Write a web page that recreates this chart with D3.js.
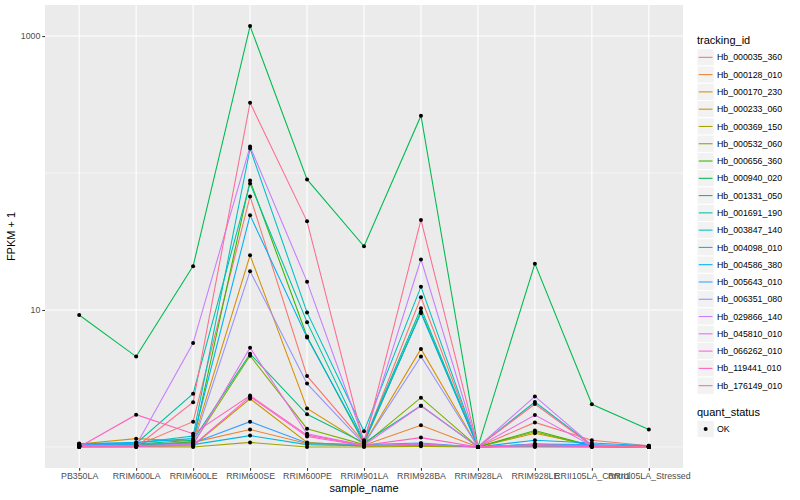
<!DOCTYPE html>
<html>
<head>
<meta charset="utf-8">
<script src="https://cdn.jsdelivr.net/npm/d3@7"></script>
<style>
  body { margin: 0; background: #fff; }
  svg text { font-family: "Liberation Sans", Arial, Helvetica, sans-serif; }
</style>
</head>
<body>
<div id="chart"></div>
<script>
const samples = ["PB350LA", "RRIM600LA", "RRIM600LE", "RRIM600SE", "RRIM600PE", "RRIM901LA",
  "RRIM928BA", "RRIM928LA", "RRIM928LE", "RRII105LA_Control", "RRII105LA_Stressed"];

const trackingIds = ["Hb_000035_360", "Hb_000128_010", "Hb_000170_230", "Hb_000233_060",
  "Hb_000369_150", "Hb_000532_060", "Hb_000656_360", "Hb_000940_020", "Hb_001331_050",
  "Hb_001691_190", "Hb_003847_140", "Hb_004098_010", "Hb_004586_380", "Hb_005643_010",
  "Hb_006351_080", "Hb_029866_140", "Hb_045810_010", "Hb_066262_010", "Hb_119441_010",
  "Hb_176149_010"];

// FPKM + 1, one array per tracking_id, in sample order
const fpkm = [
  [1.03, 1.02, 1.53, 67.5, 3.30, 1.08, 12.4, 1.0, 1.51, 1.12, 1.02],
  [1.02, 1.04, 1.08, 1.34, 1.06, 1.03, 1.44, 1.0, 1.03, 1.02, 1.0],
  [1.05, 1.15, 1.10, 25.1, 1.91, 1.05, 5.2, 1.0, 1.26, 1.03, 1.01],
  [1.01, 1.01, 1.02, 2.25, 1.08, 1.01, 1.03, 1.0, 1.01, 1.0, 1.0],
  [1.0, 1.0, 1.0, 1.08, 1.0, 1.0, 1.01, 1.0, 1.0, 1.0, 1.0],
  [1.02, 1.03, 1.06, 4.63, 1.36, 1.04, 2.29, 1.0, 1.29, 1.01, 1.0],
  [1.01, 1.02, 1.09, 88, 6.4, 1.06, 9.7, 1.0, 1.32, 1.02, 1.0],
  [9.2, 4.57, 20.9, 1183, 89.8, 29.2, 262, 1.0, 21.8, 2.05, 1.34],
  [1.02, 1.05, 1.12, 4.79, 1.73, 1.07, 2.0, 1.0, 1.04, 1.01, 1.0],
  [1.04, 1.06, 2.45, 84, 8.15, 1.10, 10.3, 1.0, 2.13, 1.03, 1.01],
  [1.06, 1.07, 1.20, 151, 9.6, 1.30, 14.8, 1.0, 1.05, 1.02, 1.0],
  [1.03, 1.03, 1.04, 1.21, 1.04, 1.02, 1.05, 1.0, 1.02, 1.01, 1.0],
  [1.05, 1.08, 1.15, 49.1, 6.3, 1.09, 9.5, 1.0, 1.12, 1.07, 1.02],
  [1.04, 1.05, 1.07, 1.53, 1.07, 1.04, 1.07, 1.0, 1.05, 1.04, 1.01],
  [1.01, 1.02, 1.05, 19.2, 2.90, 1.05, 4.57, 1.0, 1.03, 1.01, 1.0],
  [1.02, 1.03, 5.73, 156, 16.1, 1.12, 23.4, 1.0, 2.34, 1.03, 1.0],
  [1.01, 1.02, 1.04, 5.3, 1.25, 1.03, 2.0, 1.0, 1.71, 1.02, 1.0],
  [1.0, 1.01, 1.03, 2.33, 1.19, 1.02, 1.05, 1.0, 1.02, 1.01, 1.0],
  [1.0, 1.72, 1.25, 2.37, 1.22, 1.03, 1.17, 1.0, 1.04, 1.01, 1.0],
  [1.0, 1.0, 2.12, 326, 44.4, 1.05, 45.4, 1.0, 2.06, 1.02, 1.0]
];

const yBreaks = [10, 1000];
const yMinor = [1, 100];
const quantStatus = ["OK"];

const width = 800, height = 500;
const panel = { left: 45, right: 683, top: 5, bottom: 468 };

// ggplot default hue palette for 20 levels
const palette = ["#F8766D", "#EA8331", "#D89000", "#C09B00", "#A3A500", "#7CAE00", "#39B600",
  "#00BB4E", "#00BF7D", "#00C1A3", "#00BFC4", "#00BAE0", "#00B0F6", "#35A2FF", "#9590FF",
  "#C77CFF", "#E76BF3", "#FA62DB", "#FF62BC", "#FF6C91"];
const color = d3.scaleOrdinal().domain(trackingIds).range(palette);

const svg = d3.select("#chart").append("svg")
  .attr("width", width)
  .attr("height", height);

const x = d3.scalePoint()
  .domain(samples)
  .range([panel.left, panel.right])
  .padding(0.6);

// log10 scale with 5% expansion like ggplot
const allVals = fpkm.flat();
const lo = Math.log10(d3.min(allVals)), hi = Math.log10(d3.max(allVals));
const pad = (hi - lo) * 0.05;
const y = d3.scaleLog()
  .domain([Math.pow(10, lo - pad), Math.pow(10, hi + pad)])
  .range([panel.bottom, panel.top]);

// panel background
svg.append("rect")
  .attr("x", panel.left).attr("y", panel.top)
  .attr("width", panel.right - panel.left)
  .attr("height", panel.bottom - panel.top)
  .attr("fill", "#EBEBEB");

const grid = svg.append("g");
grid.selectAll(".minor-y").data(yMinor).enter().append("line")
  .attr("x1", panel.left).attr("x2", panel.right)
  .attr("y1", d => y(d)).attr("y2", d => y(d))
  .attr("stroke", "#fff").attr("stroke-width", 0.55);
grid.selectAll(".major-y").data(yBreaks).enter().append("line")
  .attr("x1", panel.left).attr("x2", panel.right)
  .attr("y1", d => y(d)).attr("y2", d => y(d))
  .attr("stroke", "#fff").attr("stroke-width", 1.1);
grid.selectAll(".major-x").data(samples).enter().append("line")
  .attr("y1", panel.top).attr("y2", panel.bottom)
  .attr("x1", d => x(d)).attr("x2", d => x(d))
  .attr("stroke", "#fff").attr("stroke-width", 1.1);

// lines
const line = d3.line()
  .x((d, i) => x(samples[i]))
  .y(d => y(d));

svg.append("g").selectAll("path")
  .data(fpkm)
  .enter().append("path")
  .attr("d", d => line(d))
  .attr("fill", "none")
  .attr("stroke", (d, i) => color(trackingIds[i]))
  .attr("stroke-width", 1.07);

// points
const pts = fpkm.flatMap(row => row.map((v, i) => ({ s: samples[i], v })));
svg.append("g").selectAll("circle")
  .data(pts)
  .enter().append("circle")
  .attr("cx", d => x(d.s))
  .attr("cy", d => y(d.v))
  .attr("r", 2)
  .attr("fill", "#000");

// axes
const yAxis = d3.axisLeft(y).tickValues(yBreaks).tickFormat(d3.format("d")).tickSize(2.7).tickPadding(2);
const gy = svg.append("g").attr("transform", `translate(${panel.left},0)`).call(yAxis);
gy.select(".domain").remove();
gy.selectAll("line").attr("stroke", "#333333").attr("stroke-width", 1.07);
gy.selectAll("text").attr("fill", "#4D4D4D").style("font-size", "8.8px");

const xAxis = d3.axisBottom(x).tickSize(2.7).tickPadding(2);
const gx = svg.append("g").attr("transform", `translate(0,${panel.bottom})`).call(xAxis);
gx.select(".domain").remove();
gx.selectAll("line").attr("stroke", "#333333").attr("stroke-width", 1.07);
gx.selectAll("text").attr("fill", "#4D4D4D").style("font-size", "8.8px");

// axis titles
svg.append("text")
  .attr("x", (panel.left + panel.right) / 2)
  .attr("y", 492)
  .attr("text-anchor", "middle")
  .style("font-size", "11px")
  .text("sample_name");

svg.append("text")
  .attr("transform", `translate(15,${(panel.top + panel.bottom) / 2}) rotate(-90)`)
  .attr("text-anchor", "middle")
  .style("font-size", "11px")
  .text("FPKM + 1");

// legend: tracking_id
const legend = svg.append("g").attr("transform", "translate(697,0)");
legend.append("text")
  .attr("x", 0).attr("y", 44)
  .style("font-size", "11px")
  .text("tracking_id");

const keyH = 17.28, keyTop = 48.7;
const keys = legend.selectAll(".key")
  .data(trackingIds)
  .enter().append("g")
  .attr("transform", (d, i) => `translate(0,${keyTop + i * keyH})`);
keys.append("rect")
  .attr("width", 17.28).attr("height", keyH)
  .attr("fill", "#F2F2F2").attr("stroke", "#fff").attr("stroke-width", 1);
keys.append("line")
  .attr("x1", 1.7).attr("x2", 15.5)
  .attr("y1", keyH / 2).attr("y2", keyH / 2)
  .attr("stroke", d => color(d))
  .attr("stroke-width", 1.07);
keys.append("text")
  .attr("x", 20).attr("y", keyH / 2 + 3.1)
  .style("font-size", "8.8px")
  .text(d => d);

// legend: quant_status
legend.append("text")
  .attr("x", 0).attr("y", 416)
  .style("font-size", "11px")
  .text("quant_status");
const qk = legend.selectAll(".qkey")
  .data(quantStatus)
  .enter().append("g")
  .attr("transform", (d, i) => `translate(0,${420.4 + i * keyH})`);
qk.append("rect")
  .attr("width", 17.28).attr("height", keyH)
  .attr("fill", "#F2F2F2").attr("stroke", "#fff").attr("stroke-width", 1);
qk.append("circle")
  .attr("cx", 8.64).attr("cy", keyH / 2).attr("r", 2)
  .attr("fill", "#000");
qk.append("text")
  .attr("x", 20).attr("y", keyH / 2 + 3.1)
  .style("font-size", "8.8px")
  .text(d => d);
</script>
</body>
</html>
